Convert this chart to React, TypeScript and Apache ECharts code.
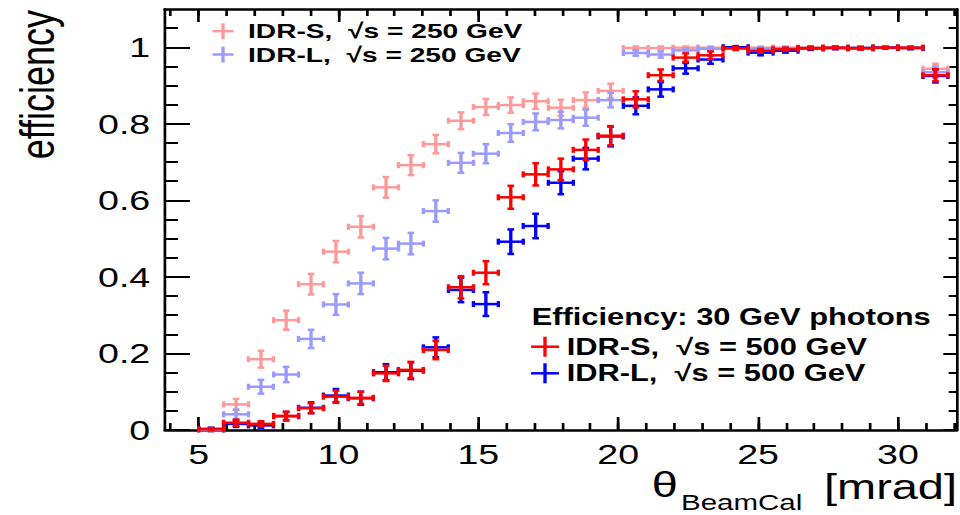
import React, { useEffect, useRef } from "react";
import * as echarts from "echarts";

// ---------- data ----------
const binCenters = [5.45, 6.34, 7.23, 8.13, 9.02, 9.91, 10.8, 11.7, 12.59, 13.48, 14.38, 15.27, 16.16, 17.05, 17.95, 18.84, 19.73, 20.63, 21.52, 22.41, 23.3, 24.2, 25.09, 25.98, 26.88, 27.77, 28.66, 29.55, 30.45, 31.34];
const binHalfWidth = 0.446;

const idrS250 = [0.0, 0.067, 0.185, 0.287, 0.381, 0.466, 0.531, 0.634, 0.692, 0.747, 0.808, 0.844, 0.849, 0.859, 0.842, 0.862, 0.886, 0.998, 0.998, 0.999, 0.999, 0.999, 0.999, 0.999, 0.999, 0.999, 0.999, 1.0, 0.999, 0.944];
const idrS250Err = [0.004, 0.014, 0.022, 0.025, 0.027, 0.028, 0.028, 0.027, 0.026, 0.024, 0.022, 0.021, 0.02, 0.02, 0.021, 0.02, 0.019, 0.004, 0.004, 0.003, 0.003, 0.003, 0.003, 0.003, 0.003, 0.003, 0.003, 0.002, 0.003, 0.013];

const idrL250 = [0.0, 0.041, 0.113, 0.145, 0.238, 0.328, 0.383, 0.474, 0.487, 0.572, 0.698, 0.722, 0.776, 0.805, 0.81, 0.816, 0.862, 0.985, 0.981, 0.992, 0.996, 0.997, 0.997, 0.998, 0.998, 0.998, 0.998, 0.999, 0.998, 0.935];
const idrL250Err = [0.004, 0.012, 0.018, 0.02, 0.024, 0.027, 0.028, 0.028, 0.028, 0.028, 0.026, 0.025, 0.023, 0.022, 0.022, 0.021, 0.019, 0.007, 0.008, 0.005, 0.004, 0.003, 0.003, 0.003, 0.003, 0.003, 0.003, 0.002, 0.003, 0.015];

const idrS500 = [0.002, 0.019, 0.016, 0.037, 0.057, 0.087, 0.084, 0.148, 0.157, 0.209, 0.373, 0.411, 0.608, 0.668, 0.681, 0.732, 0.769, 0.864, 0.927, 0.973, 0.979, 0.997, 0.991, 0.995, 0.998, 0.999, 0.997, 0.999, 0.999, 0.927];
const idrS500Err = [0.003, 0.008, 0.007, 0.011, 0.013, 0.016, 0.016, 0.02, 0.021, 0.024, 0.029, 0.03, 0.03, 0.029, 0.028, 0.027, 0.025, 0.021, 0.015, 0.011, 0.01, 0.004, 0.005, 0.004, 0.003, 0.003, 0.003, 0.002, 0.002, 0.016];

const idrL500 = [0.003, 0.016, 0.012, 0.036, 0.058, 0.09, 0.083, 0.151, 0.155, 0.216, 0.366, 0.329, 0.492, 0.533, 0.646, 0.709, 0.767, 0.847, 0.89, 0.945, 0.968, 1.0, 0.986, 0.991, 0.997, 0.998, 0.998, 0.999, 0.998, 0.925];
const idrL500Err = [0.003, 0.008, 0.007, 0.011, 0.014, 0.017, 0.017, 0.021, 0.022, 0.026, 0.032, 0.031, 0.032, 0.032, 0.03, 0.028, 0.026, 0.022, 0.019, 0.014, 0.011, 0.003, 0.007, 0.005, 0.004, 0.003, 0.003, 0.002, 0.003, 0.017];

const xMajorTicks = [5, 10, 15, 20, 25, 30];
const xMinorTicks = [4, 5, 6, 7, 8, 9, 10, 11, 12, 13, 14, 15, 16, 17, 18, 19, 20, 21, 22, 23, 24, 25, 26, 27, 28, 29, 30, 31, 32];
const yMajorTicks = [0, 0.2, 0.4, 0.6, 0.8, 1];
const yMinorTicks = [0, 0.05, 0.1, 0.15, 0.2, 0.25, 0.3, 0.35, 0.4, 0.45, 0.5, 0.55, 0.6, 0.65, 0.7, 0.75, 0.8, 0.85, 0.9, 0.95, 1, 1.05];

const legend250Labels = ["IDR-S,  \u221As = 250 GeV", "IDR-L,  \u221As = 250 GeV"];
const legend500Title = "Efficiency: 30 GeV photons";
const legend500Labels = ["IDR-S,  \u221As = 500 GeV", "IDR-L,  \u221As = 500 GeV"];

// ---------- layout ----------
const S = 960 / 716; // horizontal stretch of the reference picture
const CW = 716;
const CH = 515;
const X_MIN = 3.8;
const X_MAX = 32.1;
const Y_MIN = 0;
const Y_MAX = 1.1;
const FONT = "'Liberation Sans', Arial, Helvetica, sans-serif";

const C_LIGHT_RED = "#ff9a9a";
const C_LIGHT_BLUE = "#9a9aff";
const C_RED = "#ff0000";
const C_BLUE = "#0000ff";

const mkX = (position: string, ticks: number[], len: number, showLine: boolean, showLabel: boolean) => ({
  type: "value",
  min: X_MIN,
  max: X_MAX,
  position,
  axisLine: { show: showLine, onZero: false, lineStyle: { color: "#000", width: 2.5 } },
  axisTick: { show: true, inside: true, length: len, customValues: ticks, lineStyle: { color: "#000", width: 2 } },
  axisLabel: showLabel
    ? { show: true, customValues: xMajorTicks, margin: 10, fontSize: 28, fontFamily: FONT, color: "#000" }
    : { show: false },
  splitLine: { show: false },
});

const mkY = (position: string, ticks: number[], len: number, showLine: boolean, showLabel: boolean) => ({
  type: "value",
  min: Y_MIN,
  max: Y_MAX,
  position,
  axisLine: { show: showLine, onZero: false, lineStyle: { color: "#000", width: 2 } },
  axisTick: { show: true, inside: true, length: len, customValues: ticks, lineStyle: { color: "#000", width: 2 } },
  axisLabel: showLabel
    ? { show: true, customValues: yMajorTicks, margin: 11, fontSize: 28, fontFamily: FONT, color: "#000" }
    : { show: false },
  splitLine: { show: false },
});

const mkSeries = (name: string, values: number[], errs: number[], color: string) => ({
  type: "custom",
  name,
  xAxisIndex: 0,
  yAxisIndex: 0,
  data: binCenters.map((x, i) => [x, values[i], errs[i]]),
  encode: { x: 0, y: 1 },
  renderItem: (_params: any, api: any) => {
    const x = api.value(0);
    const y = api.value(1);
    const e = api.value(2);
    const pL = api.coord([x - binHalfWidth, y]);
    const pR = api.coord([x + binHalfWidth, y]);
    const pT = api.coord([x, y + e]);
    const pB = api.coord([x, y - e]);
    const style = { stroke: color, lineWidth: 2.5 };
    const capH = 3;
    const capV = 2.5;
    return {
      type: "group",
      children: [
        { type: "line", shape: { x1: pL[0], y1: pL[1], x2: pR[0], y2: pR[1] }, style },
        { type: "line", shape: { x1: pT[0], y1: pT[1], x2: pB[0], y2: pB[1] }, style },
        { type: "line", shape: { x1: pL[0], y1: pL[1] - capH, x2: pL[0], y2: pL[1] + capH }, style },
        { type: "line", shape: { x1: pR[0], y1: pR[1] - capH, x2: pR[0], y2: pR[1] + capH }, style },
        { type: "line", shape: { x1: pT[0] - capV, y1: pT[1], x2: pT[0] + capV, y2: pT[1] }, style },
        { type: "line", shape: { x1: pB[0] - capV, y1: pB[1], x2: pB[0] + capV, y2: pB[1] }, style },
      ],
    };
  },
});

const cross = (cx: number, cy: number, hw: number, hh: number, color: string) => [
  { type: "line", shape: { x1: cx - hw, y1: cy, x2: cx + hw, y2: cy }, style: { stroke: color, lineWidth: 2.5 } },
  { type: "line", shape: { x1: cx, y1: cy - hh, x2: cx, y2: cy + hh }, style: { stroke: color, lineWidth: 2.5 } },
];

const txt = (text: string, x: number, y: number, size: number, bold: boolean, align = "left", extra: any = {}) => ({
  type: "text",
  x,
  y,
  ...extra,
  style: {
    text,
    fontSize: size,
    fontFamily: FONT,
    fontWeight: bold ? "bold" : "normal",
    fill: "#000",
    align,
    verticalAlign: "middle",
    textAlign: align,
    textVerticalAlign: "middle",
  },
});

const buildOption = () => ({
  animation: false,
  backgroundColor: "#fff",
  grid: { left: 165 / S, right: CW - 956.7 / S, top: 9, bottom: 85, containLabel: false },
  xAxis: [
    mkX("bottom", xMajorTicks, 13, true, true),
    mkX("bottom", xMinorTicks, 7, false, false),
    mkX("top", xMajorTicks, 13, true, false),
    mkX("top", xMinorTicks, 7, false, false),
  ],
  yAxis: [
    mkY("left", yMajorTicks, 18.7, true, true),
    mkY("left", yMinorTicks, 9.7, false, false),
    mkY("right", yMajorTicks, 10, true, false),
    mkY("right", yMinorTicks, 6, false, false),
  ],
  series: [
    mkSeries("IDR-S, 250 GeV", idrS250, idrS250Err, C_LIGHT_RED),
    mkSeries("IDR-L, 250 GeV", idrL250, idrL250Err, C_LIGHT_BLUE),
    mkSeries("IDR-L, 500 GeV", idrL500, idrL500Err, C_BLUE),
    mkSeries("IDR-S, 500 GeV", idrS500, idrS500Err, C_RED),
  ],
  graphic: [
    // y axis title
    txt("efficiency", 37 / S, 10, 36, false, "right", { rotation: Math.PI / 2 }),
    // x axis title
    txt("\u03B8", 651.7 / S, 485, 35, false, "left"),
    txt("BeamCal", 681 / S, 502, 22, false, "left"),
    txt("[mrad]", 957 / S, 487, 35, false, "right"),
    // top-left legend
    ...cross(223 / S, 31.2, 7.8, 8, C_LIGHT_RED),
    ...cross(223 / S, 54.5, 7.8, 8, C_LIGHT_BLUE),
    txt(legend250Labels[0], 248 / S, 31.2, 21, true),
    txt(legend250Labels[1], 248 / S, 54.5, 21, true),
    // bottom-right legend
    txt(legend500Title, 531.7 / S, 316.7, 23, true),
    ...cross(545 / S, 346.7, 10.4, 10, C_RED),
    ...cross(545 / S, 373.3, 10.4, 10, C_BLUE),
    txt(legend500Labels[0], 566.7 / S, 346.7, 23, true),
    txt(legend500Labels[1], 566.7 / S, 373.3, 23, true),
  ],
});

export default function App() {
  const ref = useRef<HTMLDivElement>(null);
  useEffect(() => {
    if (!ref.current) return;
    const chart = echarts.init(ref.current, null, { renderer: "svg", width: CW, height: CH });
    chart.setOption(buildOption() as any);
    return () => chart.dispose();
  }, []);
  return (
    <div style={{ position: "fixed", left: 0, top: 0, width: 960, height: 515, overflow: "hidden", background: "#fff" }}>
      <div ref={ref} style={{ width: CW, height: CH, transform: `scaleX(${S})`, transformOrigin: "0 0" }} />
    </div>
  );
}
